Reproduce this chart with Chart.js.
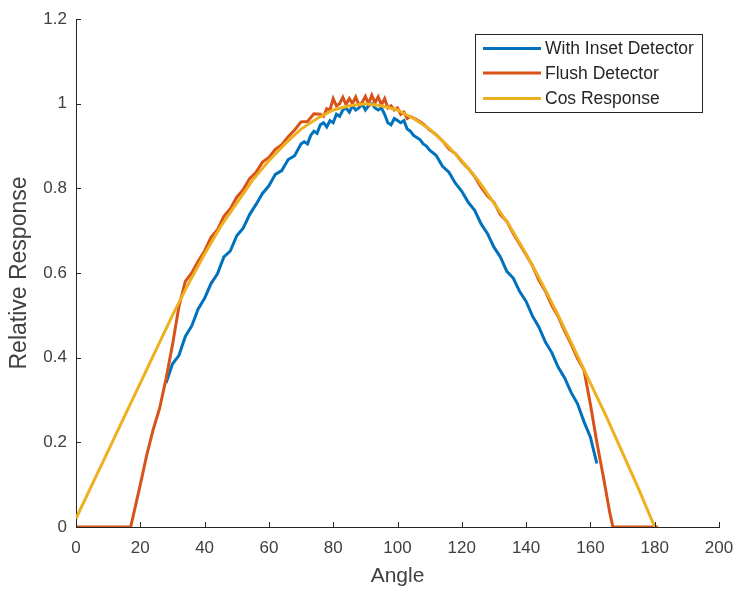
<!DOCTYPE html>
<html>
<head>
<meta charset="utf-8">
<script src="https://cdn.jsdelivr.net/npm/chart.js@4/dist/chart.umd.min.js"></script>
<style>
  html, body { margin: 0; padding: 0; background: #fff; }
  #wrap { width: 736px; height: 589px; }
</style>
</head>
<body>
<div id="wrap"><canvas id="respChart" width="736" height="589"></canvas></div>
<script>
// tick values
var xTicks = [0, 20, 40, 60, 80, 100, 120, 140, 160, 180, 200];
var yTicks = [0, 0.2, 0.4, 0.6, 0.8, 1, 1.2];

// With Inset Detector
var insetAngle = [28, 30, 32, 34, 36, 38, 40, 42, 44, 46, 48, 50, 52, 54, 56, 58, 60, 62, 64, 66, 68,
  70, 71, 72, 73, 74, 75, 76, 77, 78, 79, 80, 81, 82, 83, 84, 85, 86, 87, 88, 89, 90,
  91, 92, 93, 94, 95, 96, 97, 98, 99, 100, 101, 102, 103, 104, 105, 106, 107, 108, 109, 110,
  112, 114, 116, 118, 120, 122, 124, 126, 128, 130, 132, 134, 136, 138, 140, 142, 144, 146,
  148, 150, 152, 154, 156, 158, 160, 162];
var insetResponse = [0.34, 0.385, 0.405, 0.45, 0.475, 0.515, 0.54, 0.575, 0.598, 0.638, 0.652, 0.688, 0.706, 0.738, 0.762, 0.788, 0.806, 0.833, 0.842, 0.868, 0.877,
  0.905, 0.91, 0.905, 0.925, 0.935, 0.93, 0.95, 0.955, 0.945, 0.96, 0.955, 0.975, 0.97, 0.985, 0.99, 0.98, 0.995, 0.985, 0.99, 1.0, 0.985,
  0.995, 1.0, 0.99, 0.985, 0.99, 0.975, 0.955, 0.95, 0.965, 0.96, 0.955, 0.96, 0.94, 0.935, 0.925, 0.92, 0.915, 0.905, 0.9, 0.89,
  0.878, 0.852, 0.838, 0.812, 0.793, 0.767, 0.748, 0.716, 0.693, 0.661, 0.638, 0.604, 0.588, 0.556, 0.533, 0.498, 0.472, 0.437,
  0.412, 0.377, 0.352, 0.318, 0.291, 0.249, 0.212, 0.15];

// Flush Detector
var flushAngle = [0, 17, 20, 22, 24, 26, 28, 30, 32, 34, 36, 38, 40, 42, 44, 46, 48, 50, 52, 54, 56, 58, 60,
  62, 64, 66, 68, 70, 72, 74, 76, 77, 78, 79, 80, 81, 82, 83, 84, 85, 86, 87, 88, 89, 90,
  91, 92, 93, 94, 95, 96, 97, 98, 99, 100, 101, 102, 103, 104, 106, 108, 110, 112, 114, 116, 118,
  120, 122, 124, 126, 128, 130, 132, 134, 136, 138, 140, 142, 144, 146, 148, 150, 152, 154, 156, 158,
  160, 162, 164, 166, 167, 181];
var flushResponse = [0, 0, 0.1, 0.17, 0.23, 0.28, 0.35, 0.43, 0.52, 0.58, 0.6, 0.628, 0.652, 0.684, 0.702, 0.734, 0.752, 0.779, 0.797, 0.823, 0.838, 0.862, 0.873,
  0.892, 0.903, 0.922, 0.938, 0.957, 0.958, 0.976, 0.975, 0.97, 0.988, 0.985, 1.012, 0.995, 1.0, 1.015, 0.998, 1.012, 1.0, 1.016, 0.997, 1.003, 1.017,
  1.0, 1.02, 1.002, 1.016, 0.997, 1.012, 0.99, 0.995, 0.985, 0.99, 0.975, 0.98, 0.965, 0.97, 0.962, 0.952, 0.938, 0.927, 0.912, 0.893, 0.882,
  0.863, 0.847, 0.828, 0.803, 0.782, 0.767, 0.738, 0.722, 0.693, 0.668, 0.643, 0.617, 0.583, 0.557, 0.523, 0.497, 0.463, 0.432, 0.398, 0.371,
  0.29, 0.2, 0.12, 0.035, 0, 0];

// Cos Response
var cosAngle = [0, 5, 10, 15, 20, 25, 30, 35, 40, 45, 50, 55, 60, 65, 70, 75, 80, 85, 90,
  95, 100, 105, 110, 115, 120, 125, 130, 135, 140, 145, 150, 155, 160, 165, 170, 175, 180];
var cosResponse = [0.02, 0.1, 0.18, 0.26, 0.34, 0.42, 0.5, 0.575, 0.645, 0.71, 0.765, 0.82, 0.865, 0.905, 0.94, 0.965, 0.985, 0.995, 1.0,
  0.995, 0.985, 0.965, 0.94, 0.905, 0.865, 0.82, 0.765, 0.71, 0.645, 0.575, 0.5, 0.42, 0.34, 0.26, 0.175, 0.09, 0];

function pts(xs, ys) {
    return xs.map(function(x, i) { return {x: x, y: ys[i]}; });
}

var FONT = '"Liberation Sans", Arial, Helvetica, sans-serif';
var AXIS = '#262626';

// MATLAB style: ticks pointing inward and a boxed legend inside the axes
var matlabBits = {
    id: 'matlabBits',
    afterDraw: function(chart) {
        var ctx = chart.ctx;
        var xs = chart.scales.x, ys = chart.scales.y;
        var a = chart.chartArea;
        ctx.save();
        ctx.strokeStyle = AXIS;
        ctx.lineWidth = 1;
        ctx.beginPath();
        xTicks.forEach(function(v) {
            var px = Math.round(xs.getPixelForValue(v)) + 0.5;
            ctx.moveTo(px, a.bottom);
            ctx.lineTo(px, a.bottom - 5);
        });
        yTicks.forEach(function(v) {
            var py = Math.round(ys.getPixelForValue(v)) + 0.5;
            ctx.moveTo(a.left, py);
            ctx.lineTo(a.left + 5, py);
        });
        ctx.stroke();

        // legend
        var bx = 475.5, by = 34.5, bw = 227, bh = 78;
        ctx.fillStyle = '#fff';
        ctx.fillRect(bx, by, bw, bh);
        ctx.strokeStyle = AXIS;
        ctx.strokeRect(bx, by, bw, bh);
        var rowY = [48.5, 73, 98.5];
        ctx.font = '17.5px ' + FONT;
        ctx.textBaseline = 'middle';
        ctx.textAlign = 'left';
        chart.data.datasets.forEach(function(ds, i) {
            ctx.strokeStyle = ds.borderColor;
            ctx.lineWidth = 3;
            ctx.beginPath();
            ctx.moveTo(483, rowY[i]);
            ctx.lineTo(541, rowY[i]);
            ctx.stroke();
            ctx.fillStyle = AXIS;
            ctx.fillText(ds.label, 545, rowY[i] + 1);
        });
        ctx.restore();
    }
};

var ctx = document.getElementById('respChart').getContext('2d');
var respChart = new Chart(ctx, {
    type: 'line',
    data: {
        datasets: [{
            label: 'With Inset Detector',
            data: pts(insetAngle, insetResponse),
            borderColor: '#0072BD',
            borderWidth: 3,
            order: 3
        }, {
            label: 'Flush Detector',
            data: pts(flushAngle, flushResponse),
            borderColor: '#D95319',
            borderWidth: 3,
            order: 2
        }, {
            label: 'Cos Response',
            data: pts(cosAngle, cosResponse),
            borderColor: '#EDB120',
            borderWidth: 3,
            order: 1
        }]
    },
    options: {
        responsive: false,
        animation: false,
        events: [],
        elements: {
            point: { radius: 0 },
            line: { tension: 0, borderCapStyle: 'butt', borderJoinStyle: 'miter' }
        },
        layout: { padding: { top: 19, right: 17, left: 0, bottom: 0 } },
        scales: {
            x: {
                type: 'linear',
                min: xTicks[0],
                max: xTicks[xTicks.length - 1],
                afterFit: function(s) { s.height = 62; s.paddingLeft = 0; s.paddingRight = 0; },
                afterBuildTicks: function(s) { s.ticks = xTicks.map(function(v) { return {value: v}; }); },
                grid: { display: false, drawTicks: false },
                border: { display: true, color: AXIS, width: 1 },
                ticks: {
                    padding: 11,
                    maxRotation: 0,
                    autoSkip: false,
                    color: '#404040',
                    font: { family: FONT, size: 17 }
                },
                title: {
                    display: true,
                    text: 'Angle',
                    color: '#404040',
                    padding: { top: 0, bottom: 0 },
                    font: { family: FONT, size: 21 }
                }
            },
            y: {
                type: 'linear',
                min: yTicks[0],
                max: yTicks[yTicks.length - 1],
                afterFit: function(s) { s.width = 76; s.paddingTop = 0; s.paddingBottom = 0; },
                afterBuildTicks: function(s) { s.ticks = yTicks.map(function(v) { return {value: v}; }); },
                grid: { display: false, drawTicks: false },
                border: { display: true, color: AXIS, width: 1 },
                ticks: {
                    padding: 9,
                    autoSkip: false,
                    color: '#404040',
                    font: { family: FONT, size: 17 },
                    callback: function(v) { return String(Math.round(v * 10) / 10); }
                },
                title: {
                    display: true,
                    text: 'Relative Response',
                    color: '#404040',
                    padding: { top: 6, bottom: 0 },
                    font: { family: FONT, size: 23 }
                }
            }
        },
        plugins: {
            legend: { display: false },
            tooltip: { enabled: false }
        }
    },
    plugins: [matlabBits]
});
</script>
</body>
</html>
